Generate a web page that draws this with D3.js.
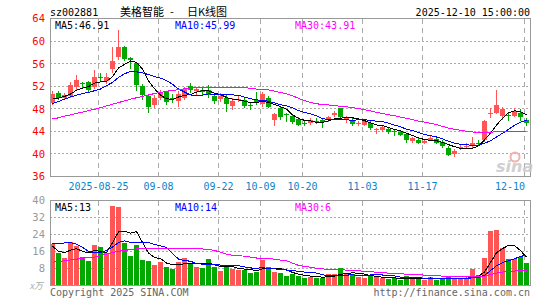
<!DOCTYPE html>
<html><head><meta charset="utf-8">
<script src="https://cdn.jsdelivr.net/npm/d3@7"></script>
<style>
html,body{margin:0;padding:0;background:#fff;}
svg{display:block;}
</style></head>
<body>
<svg id="chart" width="545" height="300"></svg>
<script>
// ---------------- data ----------------
const dates = [
"2025-08-13","2025-08-14","2025-08-15","2025-08-18","2025-08-19","2025-08-20","2025-08-21","2025-08-22","2025-08-25","2025-08-26",
"2025-08-27","2025-08-28","2025-08-29","2025-09-01","2025-09-02","2025-09-03","2025-09-04","2025-09-05","2025-09-08","2025-09-09",
"2025-09-10","2025-09-11","2025-09-12","2025-09-15","2025-09-16","2025-09-17","2025-09-18","2025-09-19","2025-09-22","2025-09-23",
"2025-09-24","2025-09-25","2025-09-26","2025-09-29","2025-09-30","2025-10-09","2025-10-10","2025-10-13","2025-10-14","2025-10-15",
"2025-10-16","2025-10-17","2025-10-20","2025-10-21","2025-10-22","2025-10-23","2025-10-24","2025-10-27","2025-10-28","2025-10-29",
"2025-10-30","2025-10-31","2025-11-03","2025-11-04","2025-11-05","2025-11-06","2025-11-07","2025-11-10","2025-11-11","2025-11-12",
"2025-11-13","2025-11-14","2025-11-17","2025-11-18","2025-11-19","2025-11-20","2025-11-21","2025-11-24","2025-11-25","2025-11-26",
"2025-11-27","2025-11-28","2025-12-01","2025-12-02","2025-12-03","2025-12-04","2025-12-05","2025-12-08","2025-12-09","2025-12-10"];

const opens = [
49.1,50.8,50.0,50.2,51.8,52.5,52.7,51.9,53.6,53.0,
55.1,57.1,59.0,57.0,56.1,52.0,50.2,48.7,50.0,50.9,
49.9,49.45,49.9,52.0,51.1,51.3,51.3,50.3,49.8,50.0,
48.45,49.5,49.6,48.7,49.6,48.9,49.9,46.1,48.2,47.1,
46.7,46.2,45.5,45.5,45.8,46.0,46.0,46.9,48.2,46.0,
46.1,45.4,45.2,45.5,44.2,44.3,44.35,44.0,43.9,43.5,
42.3,42.4,41.95,42.5,42.7,42.1,41.0,39.95,41.2,41.35,
41.35,41.85,42.4,47.2,47.3,46.7,46.9,46.75,47.3,45.95];
const highs = [
51.2,51.2,50.8,52.8,54.0,52.8,53.0,54.8,54.4,54.3,
58.9,61.9,59.1,57.2,56.3,52.4,50.5,50.4,51.3,51.2,
50.6,51.1,51.8,52.6,51.6,51.9,52.3,50.5,50.8,50.6,
49.9,50.2,50.0,49.0,51.0,51.0,50.2,47.3,48.4,47.2,
47.0,46.5,45.9,46.4,46.3,46.4,46.7,47.6,48.2,46.7,
46.4,45.9,46.1,45.8,44.6,45.0,44.6,44.3,44.0,43.6,
43.0,42.75,42.6,43.2,42.9,42.4,41.4,40.8,41.7,42.0,
43.0,42.4,45.95,48.2,51.4,48.3,47.3,48.2,47.9,46.4];
const lows = [
48.6,49.6,49.8,49.9,51.2,51.6,50.9,51.5,52.8,52.4,
54.3,56.6,56.4,55.0,51.2,49.6,47.2,48.1,49.5,48.7,
49.0,48.4,49.6,50.8,50.2,50.5,50.0,48.9,49.2,47.5,
47.8,49.2,48.2,47.7,48.7,48.4,48.2,45.0,46.1,45.7,
45.3,44.9,44.9,45.1,45.3,44.6,45.6,46.5,46.3,45.5,
45.0,44.9,44.9,44.2,43.6,43.9,43.6,43.1,43.2,42.0,
41.9,41.8,41.7,42.3,41.7,41.1,39.6,39.5,40.65,41.0,
41.1,41.35,42.2,46.3,47.1,46.1,45.9,46.5,45.9,44.9];
const closes = [
50.6,50.0,50.5,52.3,53.1,52.4,51.3,53.6,53.5,53.6,
56.4,59.0,56.8,56.6,52.3,50.5,48.4,49.95,50.9,49.2,
49.7,50.7,51.5,51.4,51.5,51.0,50.5,49.45,50.2,48.9,
49.45,49.8,48.5,48.6,49.2,50.7,48.4,47.0,46.6,47.0,
45.7,45.1,45.4,46.1,45.7,45.6,46.5,47.3,46.5,46.4,
45.3,45.5,45.8,44.6,44.5,44.75,43.9,43.9,43.35,42.4,
42.75,41.9,42.3,42.75,42.0,41.35,39.8,40.5,41.3,41.45,
42.0,41.8,45.9,47.3,48.6,47.9,46.85,47.6,46.6,45.5];
// volume, 万手
const volumes = [
19.7,15.3,13.0,20.3,18.5,13.2,11.5,18.9,18.1,15.3,
37.2,36.8,20.0,13.8,19.0,11.9,11.5,9.7,11.1,8.7,
7.9,10.9,13.0,10.4,8.7,8.2,12.4,8.8,6.8,9.3,
7.8,7.4,7.4,5.9,6.5,11.9,8.5,6.3,6.0,4.6,
5.3,4.6,3.5,4.2,3.7,3.7,5.3,5.3,8.2,5.5,
5.5,4.1,3.7,4.4,4.0,3.4,3.0,3.4,2.7,4.4,
3.4,3.4,2.7,3.8,2.6,2.9,4.1,3.0,3.0,3.0,
7.9,4.9,12.9,25.5,26.0,17.6,12.4,12.5,13.6,10.4];

// moving-average values before a full window exists
const priceMA5Head = [49.7,49.9,50.2,50.6];
const priceMA10Head = [48.9,49.3,49.7,50.1,50.4,50.7,50.9,51.2,51.5];
const priceMA30Head = [46.2,46.4,46.7,46.9,47.2,47.4,47.7,47.9,48.2,48.5,48.8,49.1,49.4,49.7,49.95,50.2,50.45,50.7,50.9,51.1,51.25,51.4,51.55,51.7,51.75,51.8,51.8,51.8,51.8];
const volMA5Head = [18.5,16.1,15.5,16.6];
const volMA10Head = [19.7,19.8,20.0,20.2,19.5,18.0,16.0,15.5,15.6];
const volMA30Head = [11.0,11.3,11.6,12.0,12.4,12.8,13.1,13.4,14.0,14.8,15.5,16.1,16.5,16.9,17.2,17.4,17.4,17.4,17.4,17.4,17.4,17.4,17.4,17.4,17.3,17.2,17.0,16.5,15.7];

const priceTicks = [36,40,44,48,52,56,60,64];
const volumeTicks = [8,16,24,32,40];
const tickDates = ["2025-08-25","2025-09-08","2025-09-22","2025-10-09","2025-10-20","2025-11-03","2025-11-17","2025-12-10"];
const tickLabels = ["2025-08-25","09-08","09-22","10-09","10-20","11-03","11-17","12-10"];

const symbol = "sz002881";
const titleParts = ["美格智能", "-", "日K线图"];
const timestamp = "2025-12-10 15:00:00";
const priceMALabels = ["MA5:46.91","MA10:45.99","MA30:43.91"];
const volMALabels = ["MA5:13","MA10:14","MA30:6"];
const unitLabel = "x万";
const copyright = "Copyright 2025 SINA.COM";
const siteUrl = "http://finance.sina.com.cn";

// ---------------- layout ----------------
const L = 50, R = 530;
const P_TOP = 18.5, P_BOT = 176.5;
const V_TOP = 200.5, V_BOT = 285.5;
const RED = "#ff5555", GREEN = "#00a800";
const MA_COLORS = ["#000000", "#0000ff", "#ff00ff"];
const MONO = "'DejaVu Sans Mono', monospace";

function movingAvg(values, n, head) {
  return values.map((v, i) => i < head.length ? head[i] : d3.mean(values.slice(i - n + 1, i + 1)));
}

const svg = d3.select("#chart");
svg.append("rect").attr("width", 545).attr("height", 300).attr("fill", "#fff");

const x = d3.scaleBand().domain(dates).range([L - 0.5, R - 0.5]).paddingInner(1/6).paddingOuter(1/12);
const bw = x.bandwidth();
const cx = d => x(d) + bw / 2;
const yP = d3.scaleLinear().domain([36, 64]).range([P_BOT, P_TOP]);
const yV = d3.scaleLinear().domain([0, 40]).range([V_BOT, V_TOP]);

const snap = v => Math.round(v - 0.5) + 0.5;

// ---------------- grids ----------------
function hGrid(scale, ticks) {
  const g = svg.append("g").attr("transform", `translate(${L},0)`)
    .call(d3.axisLeft(scale).tickValues(ticks).tickSize(-(R - L)).tickFormat(""));
  g.select(".domain").remove();
  g.selectAll(".tick").attr("transform", d => `translate(0,${snap(scale(d))})`);
  g.selectAll("line").attr("stroke", "#aaa").attr("stroke-dasharray", "2,2")
    .attr("shape-rendering", "crispEdges").attr("x1", 0).attr("x2", R - L);
}
hGrid(yP, priceTicks.filter(t => t > 36 && t < 64));
hGrid(yV, volumeTicks.filter(t => t < 40));

function vGrid(y0, y1) {
  svg.append("g").selectAll("line").data(tickDates).join("line")
    .attr("x1", d => x(d) + 0.5).attr("x2", d => x(d) + 0.5)
    .attr("y1", y0).attr("y2", y1)
    .attr("stroke", "#aaa").attr("stroke-dasharray", "5,4")
    .attr("shape-rendering", "crispEdges");
}
vGrid(P_TOP, P_BOT);
vGrid(V_TOP, V_BOT);

// ---------------- candles ----------------
const idx = d3.range(dates.length);
const isUp = i => closes[i] >= opens[i];
const cg = svg.append("g").attr("shape-rendering", "crispEdges");
cg.selectAll("line").data(idx).join("line")
  .attr("x1", i => cx(dates[i])).attr("x2", i => cx(dates[i]))
  .attr("y1", i => Math.round(yP(highs[i]))).attr("y2", i => Math.round(yP(lows[i])))
  .attr("stroke", i => isUp(i) ? RED : GREEN);
cg.selectAll("rect").data(idx).join("rect")
  .attr("x", i => x(dates[i])).attr("width", bw)
  .attr("y", i => Math.round(yP(Math.max(opens[i], closes[i]))))
  .attr("height", i => Math.max(1, Math.round(yP(Math.min(opens[i], closes[i]))) - Math.round(yP(Math.max(opens[i], closes[i])))))
  .attr("fill", i => isUp(i) ? RED : GREEN);

// price MAs
const pMAs = [movingAvg(closes, 5, priceMA5Head), movingAvg(closes, 10, priceMA10Head), movingAvg(closes, 30, priceMA30Head)];
const lineP = d3.line().x((d, i) => cx(dates[i])).y(d => yP(d));
svg.append("g").selectAll("path").data(pMAs).join("path")
  .attr("d", lineP).attr("fill", "none").attr("stroke", (d, k) => MA_COLORS[k]).attr("stroke-width", 1)
  .attr("shape-rendering", "crispEdges");

// ---------------- volume ----------------
svg.append("g").attr("shape-rendering", "crispEdges").selectAll("rect").data(idx).join("rect")
  .attr("x", i => x(dates[i])).attr("width", bw)
  .attr("y", i => Math.round(yV(volumes[i])))
  .attr("height", i => Math.round(yV(0)) - Math.round(yV(volumes[i])))
  .attr("fill", i => isUp(i) ? RED : GREEN);
const vMAs = [movingAvg(volumes, 5, volMA5Head), movingAvg(volumes, 10, volMA10Head), movingAvg(volumes, 30, volMA30Head)];
const lineV = d3.line().x((d, i) => cx(dates[i])).y(d => yV(d));
svg.append("g").selectAll("path").data(vMAs).join("path")
  .attr("d", lineV).attr("fill", "none").attr("stroke", (d, k) => MA_COLORS[k]).attr("stroke-width", 1)
  .attr("shape-rendering", "crispEdges");

// ---------------- borders ----------------
[[P_TOP, P_BOT], [V_TOP, V_BOT]].forEach(([t, b]) => {
  svg.append("rect").attr("x", L + 0.5).attr("y", t).attr("width", R - L).attr("height", b - t)
    .attr("fill", "none").attr("stroke", "#999").attr("shape-rendering", "crispEdges");
});

// ---------------- axes labels ----------------
function yLabels(scale, ticks, color) {
  const g = svg.append("g").attr("transform", `translate(${L},0)`)
    .call(d3.axisLeft(scale).tickValues(ticks).tickSize(0).tickPadding(5));
  g.select(".domain").remove();
  g.selectAll("text").attr("fill", color).style("font-family", MONO).style("font-size", "10.5px");
}
yLabels(yP, priceTicks, "#ff0000");
yLabels(yV, volumeTicks, "#999");

svg.append("g").selectAll("text").data(tickDates).join("text")
  .attr("x", (d, k) => {
    const c = x(d) + 0.5, w = tickLabels[k].length * 6;
    return c + w / 2 > 525 ? 525 - w / 2 : c;
  })
  .attr("y", 190).attr("text-anchor", "middle")
  .attr("fill", "#0a84cc").style("font-family", MONO).style("font-size", "10px")
  .text((d, k) => tickLabels[k]);

svg.append("text").attr("x", 43).attr("y", 289).attr("text-anchor", "end")
  .attr("fill", "#aaa").style("font-family", "'Noto Sans CJK SC', sans-serif").style("font-size", "9px")
  .style("font-style", "italic").text(unitLabel);

// ---------------- header ----------------
svg.append("text").attr("x", 50).attr("y", 15.5).attr("fill", "#000")
  .style("font-family", MONO).style("font-size", "10px").text(symbol);
const tt = svg.append("text").attr("y", 15.5).attr("fill", "#000")
  .style("font-family", "'Noto Sans CJK SC', sans-serif").style("font-size", "11px");
const titleX = [120, 170, 187];
titleParts.forEach((t, k) => tt.append("tspan").attr("x", titleX[k]).text(t));
svg.append("text").attr("x", 530).attr("y", 15.5).attr("text-anchor", "end").attr("fill", "#000")
  .style("font-family", MONO).style("font-size", "10px").text(timestamp);

const maLabelX = [55, 175, 295];
svg.append("g").selectAll("text").data(priceMALabels).join("text")
  .attr("x", (d, k) => maLabelX[k]).attr("y", 28.5).attr("fill", (d, k) => MA_COLORS[k])
  .style("font-family", MONO).style("font-size", "10px").text(d => d);
svg.append("g").selectAll("text").data(volMALabels).join("text")
  .attr("x", (d, k) => maLabelX[k]).attr("y", 210.5).attr("fill", (d, k) => MA_COLORS[k])
  .style("font-family", MONO).style("font-size", "10px").text(d => d);

// ---------------- footer ----------------
svg.append("text").attr("x", 50).attr("y", 296).attr("fill", "#666")
  .style("font-family", MONO).style("font-size", "10px").text(copyright);
svg.append("text").attr("x", 530).attr("y", 296).attr("text-anchor", "end").attr("fill", "#666")
  .style("font-family", MONO).style("font-size", "10px").text(siteUrl);

// watermark
svg.append("circle").attr("cx", 515).attr("cy", 157).attr("r", 4.5)
  .attr("fill", "none").attr("stroke", "#f2b0b0").attr("stroke-width", 2);
svg.append("text").attr("x", 496).attr("y", 172).attr("fill", "#c8c8c8").attr("opacity", 0.85)
  .style("font-family", "'DejaVu Sans', sans-serif").style("font-size", "16px")
  .style("font-weight", "bold").style("font-style", "italic").text("sina");
</script>
</body></html>
